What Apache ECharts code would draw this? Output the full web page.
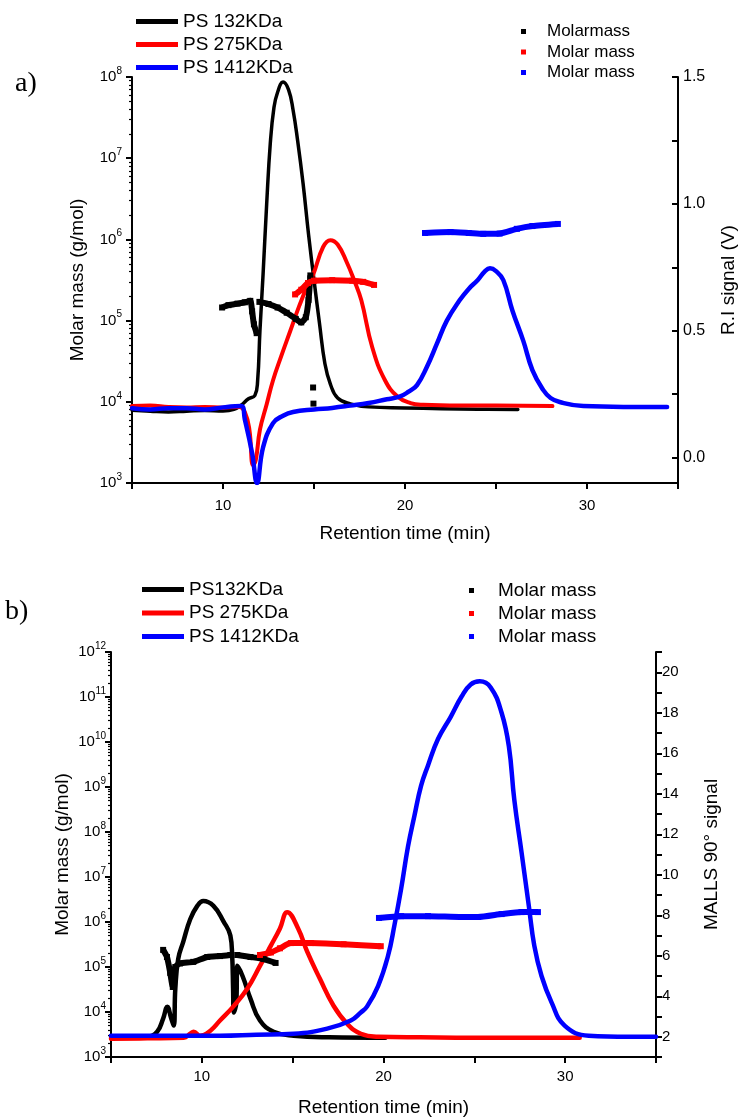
<!DOCTYPE html>
<html><head><meta charset="utf-8">
<script src="https://cdn.jsdelivr.net/npm/echarts@6/dist/echarts.min.js"></script>
<style>html,body{margin:0;padding:0;background:#fff}#c{width:739px;height:1117px}</style>
</head><body><div id="c"></div>
<script>
// ---------- axis ticks / labels ----------
const xTickLabels = [10, 20, 30];
const topLogDecades = [1e3, 1e4, 1e5, 1e6, 1e7, 1e8];
const botLogDecades = [1e3, 1e4, 1e5, 1e6, 1e7, 1e8, 1e9, 1e10, 1e11, 1e12];
const topRightTicks = [0, 0.25, 0.5, 0.75, 1.0, 1.25, 1.5];
const topRightLabels = [0, 0.5, 1.0, 1.5];
const botRightTicks = [1,2,3,4,5,6,7,8,9,10,11,12,13,14,15,16,17,18,19,20,21];
const botRightLabels = [2,4,6,8,10,12,14,16,18,20];

// ---------- legend names ----------
const topLineNames = ['PS 132KDa', 'PS 275KDa', 'PS 1412KDa'];
const topMMNames = ['Molarmass', 'Molar mass', 'Molar mass'];
const botLineNames = ['PS132KDa', 'PS 275KDa', 'PS 1412KDa'];
const botMMNames = ['Molar mass', 'Molar mass', 'Molar mass'];

// ---------- panel a) : R.I. signal (V) vs retention time ----------
const riPS132 = [[5,0.187],[6,0.183],[7,0.18],[8,0.183],[9,0.186],[10,0.184],[10.6,0.19],[11.0,0.207],[11.4,0.232],[11.75,0.245],[11.9,0.3],[12.03,0.5],[12.2,0.72],[12.4,1.0],[12.6,1.24],[12.8,1.38],[13.0,1.44],[13.3,1.48],[13.6,1.45],[13.85,1.37],[14.1,1.25],[14.4,1.08],[14.7,0.88],[15.0,0.7],[15.3,0.53],[15.6,0.37],[15.9,0.29],[16.3,0.235],[17.0,0.212],[18,0.2],[20,0.196],[22,0.193],[24,0.191],[26.2,0.19]];
const riPS275 = [[5,0.203],[6,0.205],[7,0.2],[8,0.198],[9,0.2],[10,0.197],[10.9,0.2],[11.2,0.18],[11.45,0.11],[11.65,-0.03],[11.8,-0.01],[12.03,0.11],[12.4,0.21],[12.75,0.305],[13.2,0.4],[13.7,0.5],[14.2,0.6],[14.6,0.67],[14.95,0.72],[15.5,0.83],[15.9,0.857],[16.3,0.84],[16.8,0.77],[17.2,0.7],[17.6,0.62],[18.2,0.435],[18.9,0.305],[19.6,0.24],[20.3,0.215],[21,0.208],[23,0.205],[25,0.205],[28.1,0.203]];
const riPS1412 = [[5,0.195],[6,0.19],[7,0.195],[8,0.195],[9,0.19],[10,0.198],[11.0,0.203],[11.2,0.15],[11.6,0.018],[11.87,-0.1],[12.2,0.04],[12.75,0.136],[13.3,0.165],[13.85,0.18],[15,0.19],[16,0.196],[17,0.205],[18,0.215],[19,0.23],[19.7,0.24],[20.2,0.26],[20.66,0.286],[21.2,0.357],[21.76,0.45],[22.3,0.54],[23.0,0.62],[23.5,0.665],[24.0,0.70],[24.4,0.735],[24.67,0.746],[25.0,0.735],[25.4,0.70],[25.9,0.58],[26.5,0.46],[27.0,0.345],[27.6,0.266],[28.0,0.235],[28.5,0.219],[29.8,0.203],[32,0.2],[34.4,0.2]];
// molar mass (g/mol), panel a)
const mmA132 = [[9.95,1.45e5],[10.3,1.55e5],[10.8,1.62e5],[11.2,1.68e5],[11.5,1.75e5],[11.6,1.3e5],[11.7,9e4],[11.85,7e4],[11.9,null],[12.0,1.7e5],[12.5,1.6e5],[13.0,1.45e5],[13.5,1.25e5],[14.0,1.05e5],[14.3,9.5e4],[14.55,1.1e5],[14.7,1.8e5],[14.8,3.6e5],[14.9,null],[14.95,1.5e4],[14.96,null],[14.97,9.5e3]];
const mmA275 = [[13.96,2.1e5],[14.3,2.4e5],[14.67,2.9e5],[15.0,3.1e5],[16,3.15e5],[17.1,3.1e5],[17.7,3.0e5],[18.3,2.75e5]];
const mmA1412 = [[21.1,1.2e6],[22.5,1.23e6],[23.5,1.2e6],[24.3,1.17e6],[25.2,1.18e6],[26.15,1.35e6],[27.0,1.46e6],[28.4,1.55e6]];

// ---------- panel b) : MALLS 90° signal vs retention time ----------
const malls132 = [[5,2.0],[6,2.0],[7,2.0],[7.54,2.25],[7.87,2.9],[8.1,3.48],[8.3,2.95],[8.45,2.55],[8.54,4.37],[8.7,5.85],[8.98,6.7],[9.36,7.8],[9.75,8.46],[10.08,8.7],[10.64,8.46],[11.19,7.7],[11.57,7.0],[11.67,6.0],[11.72,4.4],[11.76,3.2],[11.9,3.7],[11.95,5.5],[12.24,5.0],[12.68,3.87],[13.2,2.8],[13.95,2.25],[15.06,2.05],[17,1.97],[20.1,1.95]];
const malls275 = [[5,1.9],[7,1.92],[9,1.95],[9.36,2.15],[9.55,2.25],[9.9,2.05],[10.47,2.3],[11.0,2.8],[11.74,3.5],[12.5,4.37],[13.2,5.5],[13.8,6.5],[14.3,7.35],[14.7,8.15],[15.3,7.35],[15.8,6.2],[16.5,4.86],[17.25,3.53],[18.0,2.64],[18.75,2.15],[19.7,2.0],[22,1.97],[26,1.95],[30.8,1.95]];
const malls1412 = [[5,2.05],[8,2.05],[11,2.05],[13,2.1],[15.06,2.15],[16.9,2.4],[18.2,2.8],[18.75,3.2],[19.1,3.5],[19.7,4.5],[20.25,6.0],[20.6,7.5],[20.97,9.3],[21.35,11.4],[21.7,12.9],[22.07,14.4],[22.45,15.4],[23.0,16.7],[23.7,17.8],[24.3,18.8],[24.8,19.4],[25.3,19.55],[25.9,19.25],[26.5,18.0],[26.9,16.35],[27.2,13.7],[27.6,11.1],[28.0,8.46],[28.3,6.5],[28.7,5.0],[29.25,3.7],[29.97,2.55],[31.3,2.05],[33.5,2.0],[35,2.0]];
// molar mass (g/mol), panel b)
const mmB132 = [[7.87,2.4e5],[8.08,1.67e5],[8.26,7.4e4],[8.4,3.6e4],[8.54,1e5],[8.8,1.2e5],[9.53,1.3e5],[10.3,1.67e5],[11.0,1.75e5],[11.57,1.85e5],[11.7,null],[11.95,1.85e5],[12.68,1.67e5],[13.4,1.5e5],[14.06,1.23e5]];
const mmB275 = [[13.2,1.85e5],[13.8,2.1e5],[14.3,2.6e5],[14.9,3.4e5],[16.0,3.4e5],[17.8,3.2e5],[19.85,2.9e5]];
const mmB1412 = [[19.75,1.23e6],[20.97,1.35e6],[22.45,1.35e6],[24.3,1.29e6],[25.2,1.29e6],[26.5,1.5e6],[27.6,1.66e6],[28.5,1.66e6]];

// ---------- build ----------
const F = '"Liberation Sans", Arial, sans-serif';
const COLORS = ['#000000', '#ff0000', '#0000ff'];
const AX = {color: '#000', width: 2};

function minorLog(decades) {
  const out = [];
  for (let i = 0; i < decades.length - 1; i++) for (let k = 2; k <= 9; k++) out.push(k * decades[i]);
  return out;
}
const supFmt = v => '{b|10}{s|' + Math.round(Math.log10(v)) + '}';
const rich = {
  b: {fontSize: 15, fontFamily: F, color: '#000', lineHeight: 22},
  s: {fontSize: 10, fontFamily: F, color: '#000', lineHeight: 12, verticalAlign: 'top'}
};

function xAxis(grid, gap, margin) {
  return {type: 'value', gridIndex: grid, min: 5, max: 35, interval: 5,
    name: 'Retention time (min)', nameLocation: 'middle', nameGap: gap, nameMoveOverlap: false,
    nameTextStyle: {fontFamily: F, fontSize: 19, color: '#000'},
    axisLine: {onZero: false, lineStyle: AX},
    axisTick: {show: true, length: 6, lineStyle: AX},
    axisLabel: {customValues: xTickLabels, margin: margin, fontFamily: F, fontSize: 15, color: '#000'},
    splitLine: {show: false}};
}
function logAxis(grid, decades, gap, margin) {
  return {type: 'log', logBase: 10, gridIndex: grid, position: 'left', min: decades[0], max: decades[decades.length - 1],
    name: 'Molar mass (g/mol)', nameLocation: 'middle', nameRotate: 90, nameGap: gap, nameMoveOverlap: false,
    nameTextStyle: {fontFamily: F, fontSize: 19, color: '#000'},
    axisLine: {show: true, onZero: false, lineStyle: AX},
    axisTick: {show: true, length: 6, customValues: decades, lineStyle: AX},
    axisLabel: {customValues: decades, formatter: supFmt, rich: rich, margin: margin},
    splitLine: {show: false}};
}
function minorAxis(grid, decades) {
  return {type: 'log', logBase: 10, gridIndex: grid, position: 'left', min: decades[0], max: decades[decades.length - 1],
    axisLine: {show: false}, axisLabel: {show: false}, splitLine: {show: false},
    axisTick: {show: true, length: 3, customValues: minorLog(decades), lineStyle: {color: '#000', width: 1.2}}};
}

const series = [];
function lineS(id, data, ci, w, xi, yi) {
  series.push({type: 'line', name: id, data: data, xAxisIndex: xi, yAxisIndex: yi, symbol: 'none',
    smooth: 0.45, lineStyle: {color: COLORS[ci], width: w, join: 'round', cap: 'round'}, itemStyle: {color: COLORS[ci]}, z: 2});
}
function mmS(id, data, ci, xi, yi) {
  series.push({type: 'line', name: id, data: data, xAxisIndex: xi, yAxisIndex: yi, symbol: 'rect', symbolSize: 6,
    showSymbol: true, showAllSymbol: true, connectNulls: false, smooth: 0.2,
    lineStyle: {color: COLORS[ci], width: 6}, itemStyle: {color: COLORS[ci]}, z: 3});
}
const labelMap = {};
const ids = {aL: [], aM: [], bL: [], bM: []};
[riPS132, riPS275, riPS1412].forEach((d, i) => { const id = 'aL' + i; labelMap[id] = topLineNames[i]; ids.aL.push(id); lineS(id, d, i, [3.5, 4, 4.5][i], 0, 1); });
[mmA132, mmA275, mmA1412].forEach((d, i) => { const id = 'aM' + i; labelMap[id] = topMMNames[i]; ids.aM.push(id); mmS(id, d, i, 0, 0); });
[malls132, malls275, malls1412].forEach((d, i) => { const id = 'bL' + i; labelMap[id] = botLineNames[i]; ids.bL.push(id); lineS(id, d, i, 4.5, 1, 4); });
[mmB132, mmB275, mmB1412].forEach((d, i) => { const id = 'bM' + i; labelMap[id] = botMMNames[i]; ids.bM.push(id); mmS(id, d, i, 1, 3); });

function legend(data, left, top, iw, ih, fs, gap, pad) {
  return {data: data, orient: 'vertical', left: left, top: top, padding: 0, icon: 'rect', itemWidth: iw, itemHeight: ih,
    itemGap: gap, selectedMode: false, formatter: n => labelMap[n],
    textStyle: {fontFamily: F, fontSize: fs, lineHeight: fs, color: '#000', padding: [0, 0, 0, pad]}};
}

const option = {
  animation: false,
  backgroundColor: '#fff',
  grid: [
    {left: 132, top: 77, width: 546, height: 406, outerBoundsMode: 'none', containLabel: false},
    {left: 111, top: 652, width: 545, height: 405, outerBoundsMode: 'none', containLabel: false}
  ],
  xAxis: [xAxis(0, 41, 15), xAxis(1, 41, 12)],
  yAxis: [
    logAxis(0, topLogDecades, 45, 10),
    {type: 'value', gridIndex: 0, position: 'right', min: -0.1, max: 1.5,
      name: 'R.I signal (V)', nameLocation: 'middle', nameRotate: 90, nameGap: 41, nameMoveOverlap: false,
      nameTextStyle: {fontFamily: F, fontSize: 19, color: '#000'},
      axisLine: {show: true, onZero: false, lineStyle: AX},
      axisTick: {show: true, inside: true, length: 6, customValues: topRightTicks, lineStyle: AX},
      axisLabel: {customValues: topRightLabels, formatter: v => Number(v).toFixed(1), margin: 5, fontFamily: F, fontSize: 16, color: '#000'},
      splitLine: {show: false}},
    minorAxis(0, topLogDecades),
    logAxis(1, botLogDecades, 39, 5),
    {type: 'value', gridIndex: 1, position: 'right', min: 1, max: 21,
      name: 'MALLS 90° signal', nameLocation: 'middle', nameRotate: 90, nameGap: 46, nameMoveOverlap: false,
      nameTextStyle: {fontFamily: F, fontSize: 19, color: '#000'},
      axisLine: {show: true, onZero: false, lineStyle: AX},
      axisTick: {show: true, length: 6, customValues: botRightTicks, lineStyle: AX},
      axisLabel: {customValues: botRightLabels, margin: 6, fontFamily: F, fontSize: 15, color: '#000'},
      splitLine: {show: false}},
    minorAxis(1, botLogDecades)
  ],
  legend: [
    legend(ids.aL, 136, 12, 42, 5, 19, 4, 0),
    legend(ids.aM, 521, 23, 5, 5, 17, 3.5, 16),
    legend(ids.bL, 142, 580, 42, 5, 19, 4.5, 0),
    legend(ids.bM, 469, 581, 5, 5, 19, 4, 19)
  ],
  graphic: [
    {type: 'text', left: 15, top: 70, style: {text: 'a)', font: '28px "Liberation Serif", "Times New Roman", serif', fill: '#000'}},
    {type: 'text', left: 5, top: 598, style: {text: 'b)', font: '28px "Liberation Serif", "Times New Roman", serif', fill: '#000'}}
  ],
  series: series
};
const chart = echarts.init(document.getElementById('c'));
chart.setOption(option);
</script></body></html>
